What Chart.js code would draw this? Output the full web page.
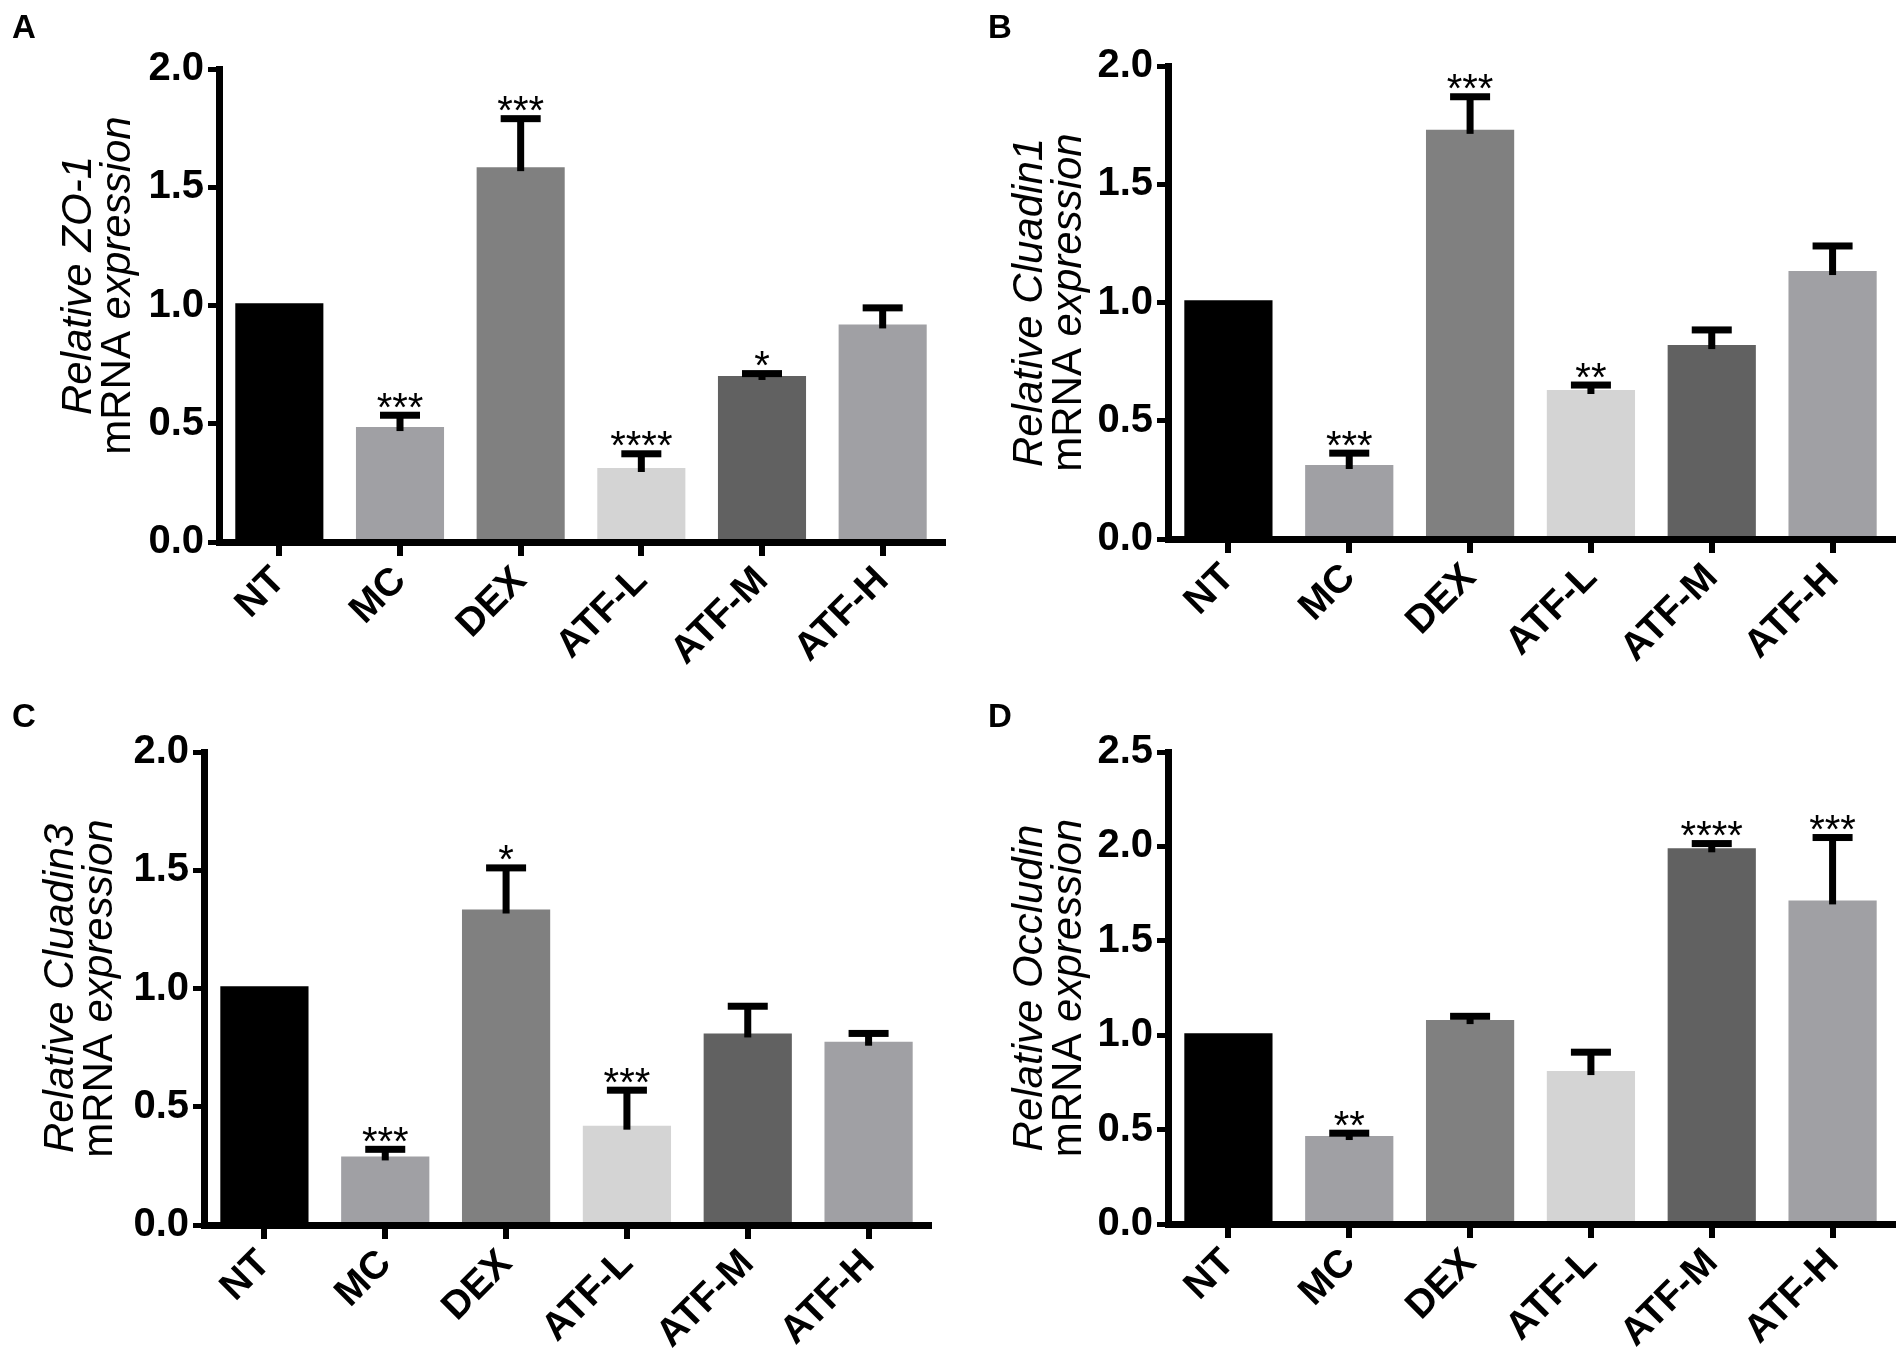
<!DOCTYPE html>
<html>
<head>
<meta charset="utf-8">
<script src="https://cdn.jsdelivr.net/npm/chart.js@4.4.0/dist/chart.umd.min.js"></script>
<style>
  html, body { margin: 0; padding: 0; background: #fff; }
  #fig { position: relative; width: 1904px; height: 1350px; background: #fff; }
  .panel { position: absolute; width: 952px; height: 675px; }
</style>
</head>
<body>
<div id="fig">
  <div class="panel" style="left:0;top:0"><canvas id="chartA"></canvas></div>
  <div class="panel" style="left:952px;top:0"><canvas id="chartB"></canvas></div>
  <div class="panel" style="left:0;top:675px"><canvas id="chartC"></canvas></div>
  <div class="panel" style="left:952px;top:675px"><canvas id="chartD"></canvas></div>
</div>
<script>
// groups on the x axis
const categories = ["NT", "MC", "DEX", "ATF-L", "ATF-M", "ATF-H"];

// A - ZO-1
const zo1Means  = [1.01, 0.486, 1.585, 0.313, 0.702, 0.92];
const zo1Errors = [0, 0.05, 0.205, 0.06, 0.01, 0.07];
const zo1Stars  = ["", "***", "***", "****", "*", ""];

// B - Cluadin1
const cldn1Means  = [1.01, 0.313, 1.73, 0.63, 0.82, 1.133];
const cldn1Errors = [0, 0.05, 0.14, 0.021, 0.064, 0.106];
const cldn1Stars  = ["", "***", "***", "**", "", ""];

// C - Cluadin3
const cldn3Means  = [1.01, 0.29, 1.334, 0.42, 0.81, 0.775];
const cldn3Errors = [0, 0.03, 0.176, 0.15, 0.115, 0.035];
const cldn3Stars  = ["", "***", "*", "***", "", ""];

// D - Occludin
const occMeans  = [1.01, 0.466, 1.08, 0.81, 1.99, 1.714];
const occErrors = [0, 0.015, 0.02, 0.10, 0.025, 0.333];
const occStars  = ["", "**", "", "", "****", "***"];

// y axis ranges / tick step
const yMaxes = [2.0, 2.0, 2.0, 2.5];
const yStep = 0.5;

const barColors = ["#000000", "#a0a0a4", "#808080", "#d4d4d4", "#616161", "#a0a0a4"];
const FONT = '"Liberation Sans", Arial, Helvetica, sans-serif';

Chart.defaults.font.family = FONT;
Chart.defaults.color = "#000";

const errorBarPlugin = {
    id: "errorBars",
    afterDatasetsDraw(chart, args, opts) {
        const ctx = chart.ctx;
        const x = chart.scales.x, y = chart.scales.y;
        ctx.save();
        ctx.fillStyle = "#000";
        ctx.font = "40px " + FONT;
        ctx.textAlign = "center";
        ctx.textBaseline = "alphabetic";
        opts.means.forEach((m, i) => {
            const e = opts.errors[i];
            const cx = x.getPixelForValue(i);
            const yTop = y.getPixelForValue(m);
            const yCap = y.getPixelForValue(m + e);
            if (e > 0) {
                ctx.fillRect(cx - 3.5, yCap, 7, yTop - yCap + 4);
                ctx.fillRect(cx - 20, yCap - 3.5, 40, 7);
            }
            if (opts.stars[i]) {
                const mt = ctx.measureText(opts.stars[i]);
                // put the bottom of the glyphs a few px above the cap
                const base = yCap - 3.5 - 4 - mt.actualBoundingBoxDescent;
                ctx.fillText(opts.stars[i], cx, base);
            }
        });
        ctx.restore();
    }
};

const panelTextPlugin = {
    id: "panelText",
    afterDraw(chart, args, opts) {
        const ctx = chart.ctx;
        const area = chart.chartArea;
        const cy = (area.top + area.bottom) / 2 + opts.titleShift;
        ctx.save();
        ctx.fillStyle = "#000";
        ctx.font = "bold 33px " + FONT;
        ctx.textAlign = "left";
        ctx.textBaseline = "alphabetic";
        ctx.fillText(opts.letter, opts.letterX, opts.letterY);

        opts.lines.forEach((parts, li) => {
            ctx.save();
            ctx.translate(area.left + opts.lineOffsets[li], cy);
            ctx.rotate(-Math.PI / 2);
            ctx.textAlign = "left";
            ctx.textBaseline = "middle";
            const widths = parts.map(p => {
                ctx.font = (p.italic ? "italic " : "") + "42px " + FONT;
                return ctx.measureText(p.text).width;
            });
            let pos = -widths.reduce((a, b) => a + b, 0) / 2;
            parts.forEach((p, k) => {
                ctx.font = (p.italic ? "italic " : "") + "42px " + FONT;
                ctx.fillText(p.text, pos, 0);
                pos += widths[k];
            });
            ctx.restore();
        });
        ctx.restore();
    }
};

function makePanel(id, p) {
    const W = 952, H = 675;
    new Chart(document.getElementById(id), {
        type: "bar",
        data: {
            labels: categories,
            datasets: [{
                data: p.means,
                backgroundColor: barColors,
                borderWidth: 0,
                barPercentage: 0.73,
                categoryPercentage: 1.0,
            }],
        },
        options: {
            responsive: true,
            maintainAspectRatio: false,
            devicePixelRatio: 1,
            animation: false,
            layout: { padding: { left: 0, top: p.top, right: W - p.right, bottom: 0 } },
            plugins: {
                legend: { display: false },
                tooltip: { enabled: false },
                errorBars: { means: p.means, errors: p.errors, stars: p.stars },
                panelText: {
                    letter: p.letter, letterX: p.letterX, letterY: p.letterY,
                    lines: [
                        [{ text: "Relative " + p.gene, italic: true }],
                        [{ text: "mRNA ", italic: false }, { text: "expression", italic: true }],
                    ],
                    lineOffsets: p.lineOffsets,
                    titleShift: p.titleShift,
                },
            },
            scales: {
                x: {
                    offset: true,
                    ticks: {
                        font: { size: 39, weight: "bold" },
                        color: "#000",
                        minRotation: 45,
                        maxRotation: 45,
                        autoSkip: false,
                        padding: 2,
                    },
                    grid: {
                        offset: false,
                        drawOnChartArea: false,
                        drawTicks: true,
                        tickLength: 14,
                        lineWidth: 6,
                        color: "#000",
                    },
                    border: { display: true, width: 7, color: "#000", z: 1 },
                    afterFit: s => { s.height = H - p.bottom; },
                },
                y: {
                    min: 0,
                    max: p.yMax,
                    ticks: {
                        stepSize: yStep,
                        font: { size: 40, weight: "bold" },
                        color: "#000",
                        padding: 4,
                        callback: v => Number(v).toFixed(1),
                    },
                    grid: {
                        drawOnChartArea: false,
                        drawTicks: true,
                        tickLength: 11,
                        lineWidth: 5,
                        color: "#000",
                    },
                    border: { display: true, width: 7, color: "#000", z: 1 },
                    afterFit: s => { s.width = p.left; },
                },
            },
        },
        plugins: [errorBarPlugin, panelTextPlugin],
    });
}

makePanel("chartA", {
    means: zo1Means, errors: zo1Errors, stars: zo1Stars, gene: "ZO-1", yMax: yMaxes[0],
    left: 219, right: 943, top: 69, bottom: 542,
    letter: "A", letterX: 12, letterY: 38, lineOffsets: [-140, -101], titleShift: -20,
});
makePanel("chartB", {
    means: cldn1Means, errors: cldn1Errors, stars: cldn1Stars, gene: "Cluadin1", yMax: yMaxes[1],
    left: 216, right: 941, top: 66, bottom: 539,
    letter: "B", letterX: 36, letterY: 38, lineOffsets: [-138, -99], titleShift: 0,
});
makePanel("chartC", {
    means: cldn3Means, errors: cldn3Errors, stars: cldn3Stars, gene: "Cluadin3", yMax: yMaxes[2],
    left: 204, right: 929, top: 77, bottom: 550,
    letter: "C", letterX: 12, letterY: 52, lineOffsets: [-143, -104], titleShift: 0,
});
makePanel("chartD", {
    means: occMeans, errors: occErrors, stars: occStars, gene: "Occludin", yMax: yMaxes[3],
    left: 216, right: 941, top: 77, bottom: 549,
    letter: "D", letterX: 36, letterY: 52, lineOffsets: [-138, -99], titleShift: 0,
});
</script>
</body>
</html>
